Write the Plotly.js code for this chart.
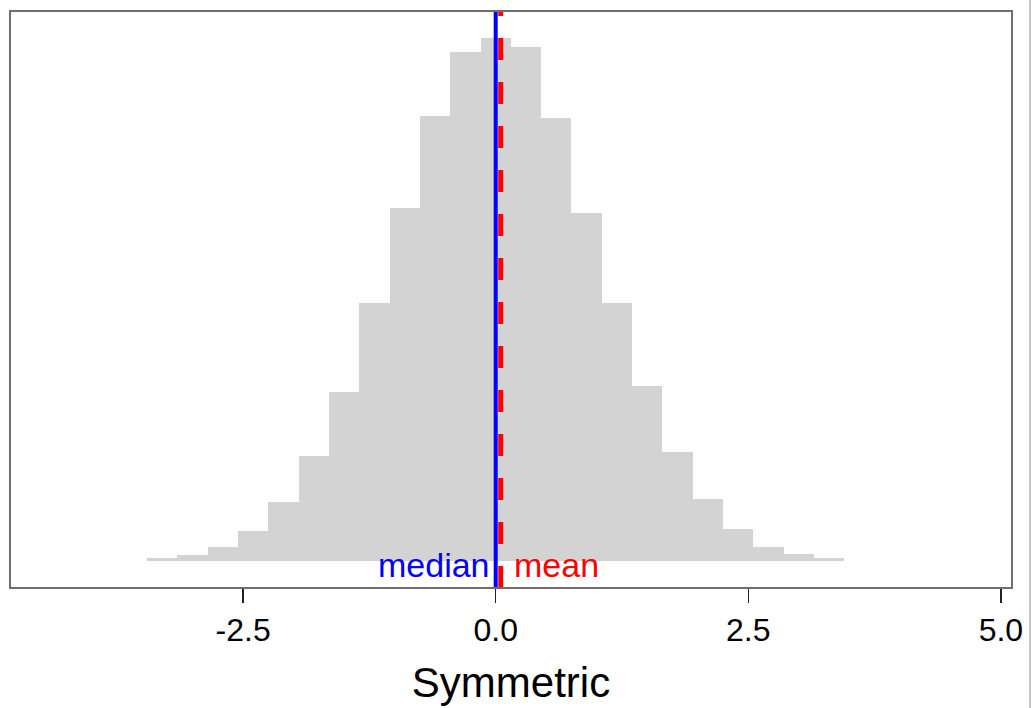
<!DOCTYPE html>
<html>
<head>
<meta charset="utf-8">
<script src="https://cdn.plot.ly/plotly-3.0.1.min.js"></script>
<style>html,body{margin:0;padding:0;background:#fff;}#chart{width:1032px;height:708px;}</style>
</head>
<body>
<div id="chart"></div>
<script>
// Histogram bins (centres, width 0.3) and counts
const binCenters = [-3.3,-3.0,-2.7,-2.4,-2.1,-1.8,-1.5,-1.2,-0.9,-0.6,-0.3,0.0,0.3,0.6,0.9,1.2,1.5,1.8,2.1,2.4,2.7,3.0,3.3];
const binCounts  = [6,14,31,69,136,240,389,593,812,1024,1171,1203,1182,1019,800,593,403,251,143,72,31,15,6];
const binWidth = 0.3;
const medianValue = 0.0;
const meanValue = 0.05;
const tickValues = [-2.5, 0, 2.5, 5];
const tickLabels = ["-2.5", "0.0", "2.5", "5.0"];
const xTitle = "Symmetric";

const font = "Liberation Sans, Arial, sans-serif";

const trace = {
  type: "bar",
  x: binCenters,
  y: binCounts,
  width: binCenters.map(() => binWidth),
  marker: {color: "#d3d3d3", line: {width: 0}},
  hoverinfo: "x+y"
};

const layout = {
  width: 1032, height: 708,
  margin: {l: 10, r: 20, t: 11, b: 120, pad: 0},
  paper_bgcolor: "#ffffff", plot_bgcolor: "#ffffff",
  showlegend: false,
  bargap: 0,
  font: {family: font, color: "#000"},
  xaxis: {
    range: [-4.807, 5.11],
    tickvals: tickValues, ticktext: tickLabels,
    ticks: "outside", ticklen: 14, tickwidth: 1.5, tickcolor: "#222",
    tickfont: {size: 32, family: font, color: "#000"},
    showgrid: false, zeroline: false, showline: false,
    title: {text: xTitle, font: {size: 42, family: font, color: "#000"}, standoff: 20}
  },
  yaxis: {
    range: [-62.6, 1264.5],
    visible: false, showgrid: false, zeroline: false
  },
  shapes: [
    {type: "line", xref: "x", yref: "paper", x0: medianValue, x1: medianValue, y0: 0, y1: 1,
     line: {color: "#0000ff", width: 4}},
    {type: "line", xref: "x", yref: "paper", x0: meanValue, x1: meanValue, y0: 0, y1: 1,
     line: {color: "#ff0000", width: 5, dash: "22px,22px"}},
    {type: "rect", xref: "paper", yref: "paper", x0: 0, x1: 1, y0: 0, y1: 1,
     line: {color: "#6e6e6e", width: 2}, fillcolor: "rgba(0,0,0,0)"},
    {type: "line", xref: "paper", yref: "paper", x0: 1.018, x1: 1.018, y0: -0.21, y1: 1.02,
     line: {color: "#b5b5b5", width: 1.5}}
  ],
  annotations: [
    {x: medianValue, y: -10, xref: "x", yref: "y", text: "median", showarrow: false,
     xanchor: "right", yanchor: "middle", xshift: -4,
     font: {size: 34, family: font, color: "#0000ff"}},
    {x: meanValue, y: -10, xref: "x", yref: "y", text: "mean", showarrow: false,
     xanchor: "left", yanchor: "middle", xshift: 11,
     font: {size: 34, family: font, color: "#ff0000"}}
  ]
};

Plotly.newPlot("chart", [trace], layout, {displayModeBar: false, staticPlot: true});
</script>
</body>
</html>
